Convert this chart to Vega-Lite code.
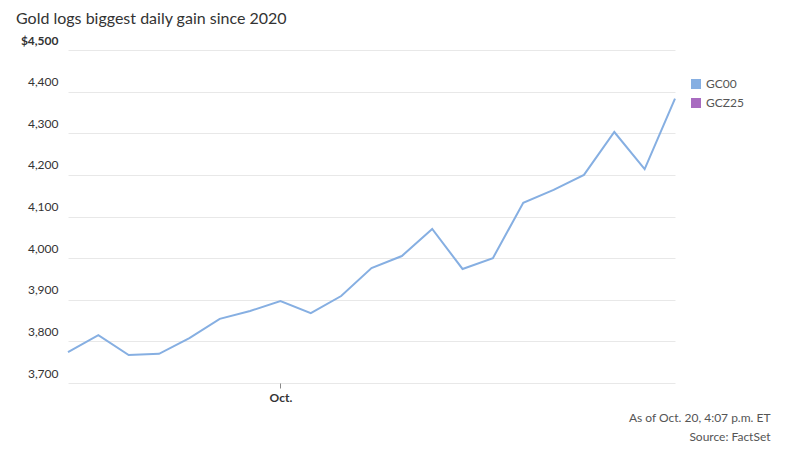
{
  "$schema": "https://vega.github.io/schema/vega-lite/v6.json",
  "width": 660,
  "height": 333,
  "autosize": "none",
  "padding": {"left": 16, "top": 50, "right": 122, "bottom": 73},
  "background": "white",
  "config": {"view": {"stroke": null}, "font": "Lato"},
  "title": {
    "text": "Gold logs biggest daily gain since 2020",
    "anchor": "start",
    "fontSize": 16,
    "fontWeight": "normal",
    "font": "Lato",
    "color": "#333333",
    "offset": 7
  },
  "data": {
    "values": [
      {"date": "2025-09-22", "symbol": "GC00", "price": 3774},
      {"date": "2025-09-23", "symbol": "GC00", "price": 3815},
      {"date": "2025-09-24", "symbol": "GC00", "price": 3767},
      {"date": "2025-09-25", "symbol": "GC00", "price": 3770},
      {"date": "2025-09-26", "symbol": "GC00", "price": 3808},
      {"date": "2025-09-29", "symbol": "GC00", "price": 3854},
      {"date": "2025-09-30", "symbol": "GC00", "price": 3873},
      {"date": "2025-10-01", "symbol": "GC00", "price": 3897},
      {"date": "2025-10-02", "symbol": "GC00", "price": 3868},
      {"date": "2025-10-03", "symbol": "GC00", "price": 3909},
      {"date": "2025-10-06", "symbol": "GC00", "price": 3976},
      {"date": "2025-10-07", "symbol": "GC00", "price": 4005},
      {"date": "2025-10-08", "symbol": "GC00", "price": 4070},
      {"date": "2025-10-09", "symbol": "GC00", "price": 3974},
      {"date": "2025-10-10", "symbol": "GC00", "price": 4000},
      {"date": "2025-10-13", "symbol": "GC00", "price": 4133},
      {"date": "2025-10-14", "symbol": "GC00", "price": 4164},
      {"date": "2025-10-15", "symbol": "GC00", "price": 4200},
      {"date": "2025-10-16", "symbol": "GC00", "price": 4303},
      {"date": "2025-10-17", "symbol": "GC00", "price": 4214},
      {"date": "2025-10-20", "symbol": "GC00", "price": 4383}
    ]
  },
  "mark": {"type": "line", "strokeWidth": 2, "interpolate": "linear"},
  "encoding": {
    "x": {
      "field": "date",
      "type": "ordinal",
      "sort": null,
      "scale": {"type": "point", "range": [52, 659], "padding": 0},
      "axis": {
        "values": ["2025-10-01"],
        "labelExpr": "'Oct.'",
        "labelAngle": 0,
        "labelFontWeight": "bold",
        "labelFontSize": 12,
        "labelColor": "#333333",
        "labelPadding": 4,
        "domain": false,
        "ticks": true,
        "tickSize": 5,
        "tickColor": "#888888",
        "grid": false,
        "title": ["As of Oct. 20, 4:07 p.m. ET", "Source: FactSet"],
        "titleAnchor": "end",
        "titleAlign": "right",
        "titleBaseline": "top",
        "titleX": 754,
        "titleY": 29,
        "titleFontSize": 12,
        "titleFontWeight": "normal",
        "titleColor": "#555555",
        "titleLineHeight": 19
      }
    },
    "y": {
      "field": "price",
      "type": "quantitative",
      "scale": {"domain": [3700, 4500], "zero": false, "nice": false},
      "axis": {
        "values": [3700, 3800, 3900, 4000, 4100, 4200, 4300, 4400, 4500],
        "labelExpr": "datum.value == 4500 ? '$4,500' : format(datum.value, ',')",
        "labelAlign": "right",
        "labelBaseline": "bottom",
        "labelPadding": -42,
        "labelOffset": -3,
        "labelFontSize": 12,
        "labelFontWeight": {"condition": {"test": "datum.value == 4500", "value": "bold"}, "value": "normal"},
        "labelColor": "#333333",
        "domain": false,
        "ticks": false,
        "grid": true,
        "gridColor": "#e8e8e8",
        "gridWidth": 1,
        "title": null
      }
    },
    "color": {
      "field": "symbol",
      "type": "nominal",
      "scale": {"domain": ["GC00", "GCZ25"], "range": ["#86afe2", "#a86bc0"]},
      "legend": {
        "title": null,
        "orient": "none",
        "legendX": 674,
        "legendY": 28,
        "symbolType": "square",
        "symbolSize": 100,
        "labelFontSize": 12,
        "labelColor": "#555555",
        "rowPadding": 7,
        "encode": {
          "symbols": {
            "update": {
              "fill": {"scale": "color", "field": "value"},
              "strokeWidth": {"value": 0}
            }
          }
        }
      }
    }
  }
}
